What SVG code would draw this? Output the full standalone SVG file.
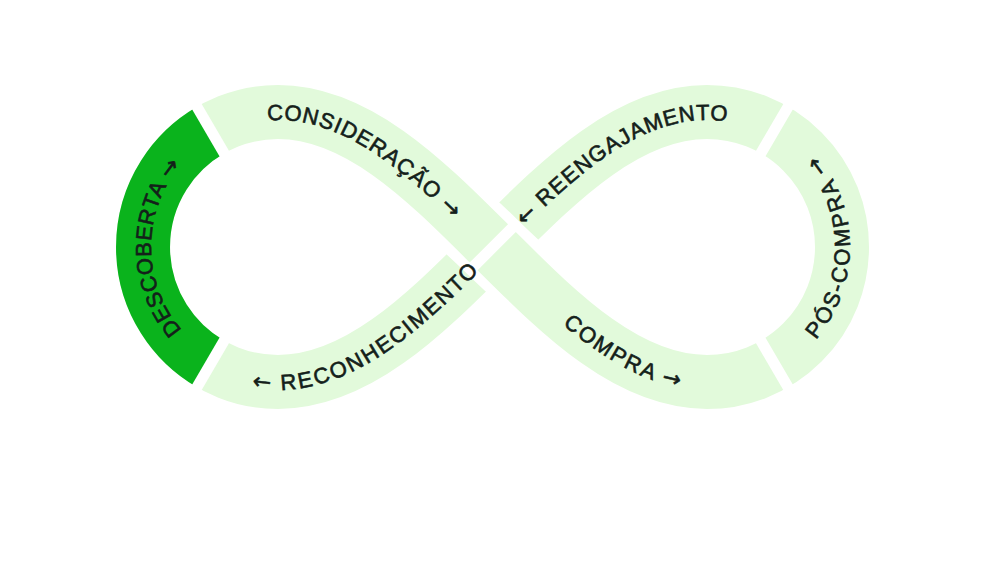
<svg xmlns="http://www.w3.org/2000/svg" width="1000" height="562" viewBox="0 0 1000 562">
<style>
.band{fill:none;stroke:#e2fadb;stroke-width:54}
.gap{stroke:#fff;stroke-width:11}
.lbl{font-family:"Liberation Sans",Arial,sans-serif;font-size:22px;font-weight:normal;fill:#14201a;stroke:#14201a;stroke-width:0.6;letter-spacing:1.5px}
.ar{font-family:"DejaVu Sans",sans-serif;font-size:22px}
</style>
<defs>
<path id="tDesc" d="M210.5,363.9 A135 135 0 0 1 210.5,130.1"/>
<path id="tCons" d="M210.5,130.1 A135 135 0 0 1 278,112 C360,112 430,185 492.5,247"/>
<path id="tReco" d="M210.5,363.9 A135 135 0 0 0 278,382 C360,382 430,309 492.5,247"/>
<path id="tReen" d="M492.5,247 C555,185 625,112 707,112 A135 135 0 0 1 770.4,127.8"/>
<path id="tComp" d="M492.5,247 C555,309 625,382 707,382 A135 135 0 0 0 770.4,366.2"/>
<path id="tPos" d="M770.4,366.2 A135 135 0 0 0 770.4,127.8"/>
</defs>
<rect width="1000" height="562" fill="#fff"/>
<g id="connectors">
<path class="band" d="M278,382 A135 135 0 0 1 278,112"/>
<path class="band" d="M707,112 A135 135 0 0 1 707,382"/>
<path class="band" d="M707,112 C625,112 555,185 492.5,247 C430,309 360,382 278,382"/>
<path fill="none" stroke="#fff" stroke-width="74" d="M420,180 C440,200 460,215 492.5,247 C525,279 545,294 565,314"/>
<path class="band" d="M278,112 C360,112 430,185 492.5,247 C555,309 625,382 707,382"/>
<path fill="none" stroke="#0ab31c" stroke-width="54" d="M210.5,363.9 A135 135 0 0 1 210.5,130.1"/>
<line class="gap" x1="470" y1="270" x2="515" y2="225"/>
<line class="gap" x1="228" y1="160" x2="193" y2="100"/>
<line class="gap" x1="228" y1="334" x2="193" y2="394"/>
<line class="gap" x1="757" y1="160" x2="792" y2="100"/>
<line class="gap" x1="757" y1="334" x2="792" y2="394"/>
</g>
<g id="descoberta"><text class="lbl" dominant-baseline="central"><textPath href="#tDesc" startOffset="50%" text-anchor="middle">DESCOBERTA <tspan class="ar">→</tspan></textPath></text></g>
<g id="consideracao"><text class="lbl" dominant-baseline="central"><textPath href="#tCons" startOffset="52%" text-anchor="middle">CONSIDERAÇÃO <tspan class="ar">→</tspan></textPath></text></g>
<g id="reconhecimento"><text class="lbl" dominant-baseline="central"><textPath href="#tReco" startOffset="53%" text-anchor="middle"><tspan class="ar">←</tspan> RECONHECIMENTO</textPath></text></g>
<g id="reengajamento"><text class="lbl" dominant-baseline="central"><textPath href="#tReen" startOffset="49%" text-anchor="middle"><tspan class="ar">←</tspan> REENGAJAMENTO</textPath></text></g>
<g id="compra"><text class="lbl" dominant-baseline="central"><textPath href="#tComp" startOffset="52%" text-anchor="middle">COMPRA <tspan class="ar">→</tspan></textPath></text></g>
<g id="poscompra"><text class="lbl" dominant-baseline="central"><textPath href="#tPos" startOffset="50%" text-anchor="middle">PÓS-COMPRA <tspan class="ar">→</tspan></textPath></text></g>
</svg>
